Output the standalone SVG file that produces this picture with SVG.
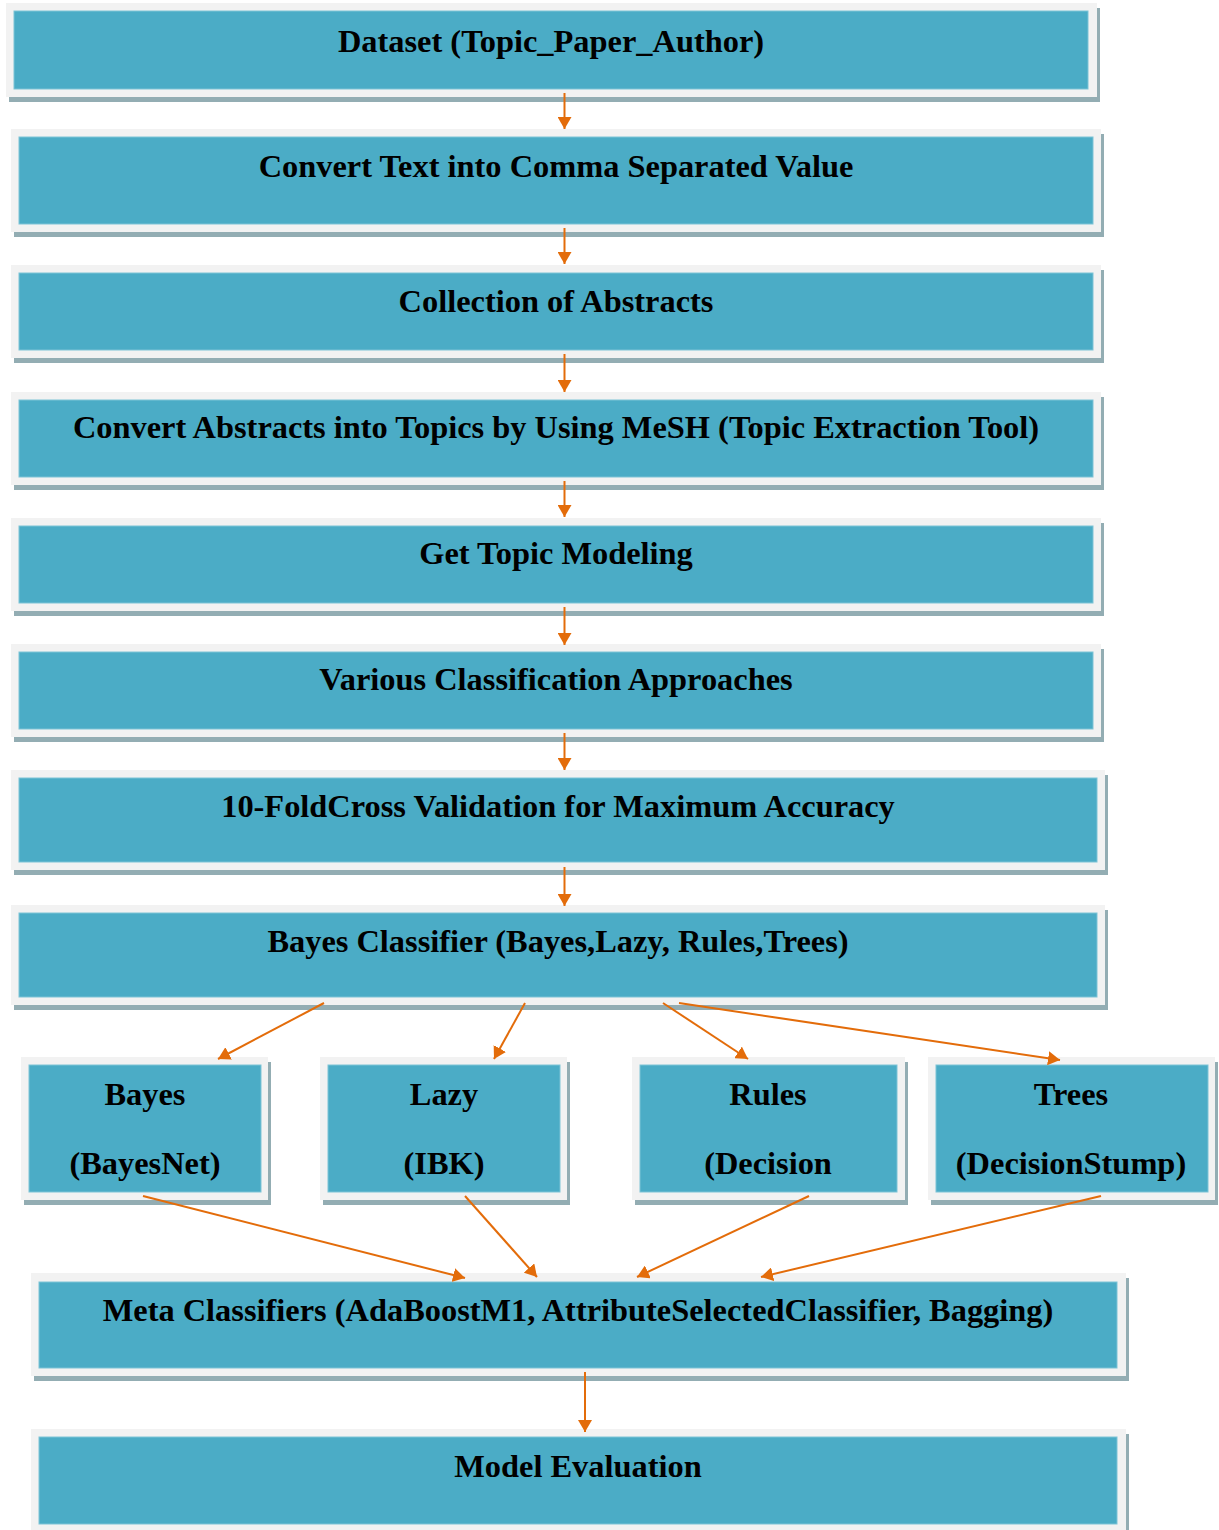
<svg xmlns="http://www.w3.org/2000/svg" width="1219" height="1530" viewBox="0 0 1219 1530">
<style>
.sh{fill:#93adb3}
.ou{fill:#f2f2f2}
.in{fill:#4bacc6;stroke:#7cc3d6;stroke-width:1}
.t{font-family:"Liberation Serif","Times New Roman",serif;font-weight:bold;font-size:32.4px;fill:#000;text-anchor:middle}
.c{stroke:#e36c0a;stroke-width:2;fill:none;marker-end:url(#ah)}
</style>
<defs>
<marker id="ah" viewBox="0 0 12 14" refX="12" refY="7" markerWidth="12" markerHeight="14" markerUnits="userSpaceOnUse" orient="auto">
<path d="M0,0 L12,7 L0,14 z" fill="#e36c0a"/>
</marker>
</defs>
<rect width="1219" height="1530" fill="#fff"/>
<g id="n1">
<rect class="sh" x="9" y="8" width="1091" height="94"/>
<rect class="ou" x="6" y="3" width="1091" height="94"/>
<rect class="in" x="14" y="11" width="1074" height="78"/>
<text class="t" x="551" y="52">Dataset (Topic_Paper_Author)</text>
</g>
<g id="n2">
<rect class="sh" x="14" y="134" width="1090" height="103"/>
<rect class="ou" x="11" y="129" width="1090" height="103"/>
<rect class="in" x="19" y="137" width="1074" height="87"/>
<text class="t" x="556" y="177">Convert Text into Comma Separated Value</text>
</g>
<g id="n3">
<rect class="sh" x="14" y="270" width="1090" height="93"/>
<rect class="ou" x="11" y="265" width="1090" height="93"/>
<rect class="in" x="19" y="273" width="1074" height="77"/>
<text class="t" x="556" y="312">Collection of Abstracts</text>
</g>
<g id="n4">
<rect class="sh" x="14" y="397" width="1090" height="93"/>
<rect class="ou" x="11" y="392" width="1090" height="93"/>
<rect class="in" x="19" y="400" width="1074" height="77"/>
<text class="t" x="556" y="438">Convert Abstracts into Topics by Using MeSH (Topic Extraction Tool)</text>
</g>
<g id="n5">
<rect class="sh" x="14" y="523" width="1090" height="93"/>
<rect class="ou" x="11" y="518" width="1090" height="93"/>
<rect class="in" x="19" y="526" width="1074" height="77"/>
<text class="t" x="556" y="564">Get Topic Modeling</text>
</g>
<g id="n6">
<rect class="sh" x="14" y="649" width="1090" height="93"/>
<rect class="ou" x="11" y="644" width="1090" height="93"/>
<rect class="in" x="19" y="652" width="1074" height="77"/>
<text class="t" x="556" y="690">Various Classification Approaches</text>
</g>
<g id="n7">
<rect class="sh" x="14" y="775" width="1094" height="100"/>
<rect class="ou" x="11" y="770" width="1094" height="100"/>
<rect class="in" x="19" y="778" width="1078" height="84"/>
<text class="t" x="558" y="817">10-FoldCross Validation for Maximum Accuracy</text>
</g>
<g id="n8">
<rect class="sh" x="14" y="910" width="1094" height="100"/>
<rect class="ou" x="11" y="905" width="1094" height="100"/>
<rect class="in" x="19" y="913" width="1078" height="84"/>
<text class="t" x="558" y="952">Bayes Classifier (Bayes,Lazy, Rules,Trees)</text>
</g>
<g id="n9">
<rect class="sh" x="24" y="1062" width="247" height="143"/>
<rect class="ou" x="21" y="1057" width="247" height="143"/>
<rect class="in" x="29" y="1065" width="232" height="127"/>
<text class="t" x="145" y="1105">Bayes</text>
<text class="t" x="145" y="1174">(BayesNet)</text>
</g>
<g id="n10">
<rect class="sh" x="323" y="1062" width="247" height="143"/>
<rect class="ou" x="320" y="1057" width="247" height="143"/>
<rect class="in" x="328" y="1065" width="232" height="127"/>
<text class="t" x="444" y="1105">Lazy</text>
<text class="t" x="444" y="1174">(IBK)</text>
</g>
<g id="n11">
<rect class="sh" x="635" y="1062" width="273" height="143"/>
<rect class="ou" x="632" y="1057" width="273" height="143"/>
<rect class="in" x="640" y="1065" width="257" height="127"/>
<text class="t" x="768" y="1105">Rules</text>
<text class="t" x="768" y="1174">(Decision</text>
</g>
<g id="n12">
<rect class="sh" x="931" y="1062" width="287" height="143"/>
<rect class="ou" x="928" y="1057" width="287" height="143"/>
<rect class="in" x="936" y="1065" width="272" height="127"/>
<text class="t" x="1071" y="1105">Trees</text>
<text class="t" x="1071" y="1174">(DecisionStump)</text>
</g>
<g id="n13">
<rect class="sh" x="34" y="1278" width="1095" height="103"/>
<rect class="ou" x="31" y="1273" width="1095" height="103"/>
<rect class="in" x="39" y="1282" width="1078" height="86"/>
<text class="t" x="578" y="1321">Meta Classifiers (AdaBoostM1, AttributeSelectedClassifier, Bagging)</text>
</g>
<g id="n14">
<rect class="sh" x="34" y="1434" width="1095" height="103"/>
<rect class="ou" x="31" y="1429" width="1095" height="103"/>
<rect class="in" x="39" y="1437" width="1078" height="87"/>
<text class="t" x="578" y="1477">Model Evaluation</text>
</g>
<g id="connectors">
<line class="c" x1="564.5" y1="93" x2="564.5" y2="129"/>
<line class="c" x1="564.5" y1="228" x2="564.5" y2="264"/>
<line class="c" x1="564.5" y1="354" x2="564.5" y2="392"/>
<line class="c" x1="564.5" y1="481" x2="564.5" y2="517"/>
<line class="c" x1="564.5" y1="607" x2="564.5" y2="645"/>
<line class="c" x1="564.5" y1="733" x2="564.5" y2="770"/>
<line class="c" x1="564.5" y1="867" x2="564.5" y2="906"/>
<line class="c" x1="324" y1="1003" x2="218" y2="1059"/>
<line class="c" x1="525" y1="1003" x2="494" y2="1059"/>
<line class="c" x1="663" y1="1003" x2="748" y2="1059"/>
<line class="c" x1="679" y1="1003" x2="1060" y2="1060"/>
<line class="c" x1="143" y1="1196" x2="465" y2="1278"/>
<line class="c" x1="465" y1="1196" x2="537" y2="1277"/>
<line class="c" x1="809" y1="1196" x2="637" y2="1277"/>
<line class="c" x1="1101" y1="1196" x2="761" y2="1277"/>
<line class="c" x1="585" y1="1372" x2="585" y2="1432"/>
</g>
</svg>
